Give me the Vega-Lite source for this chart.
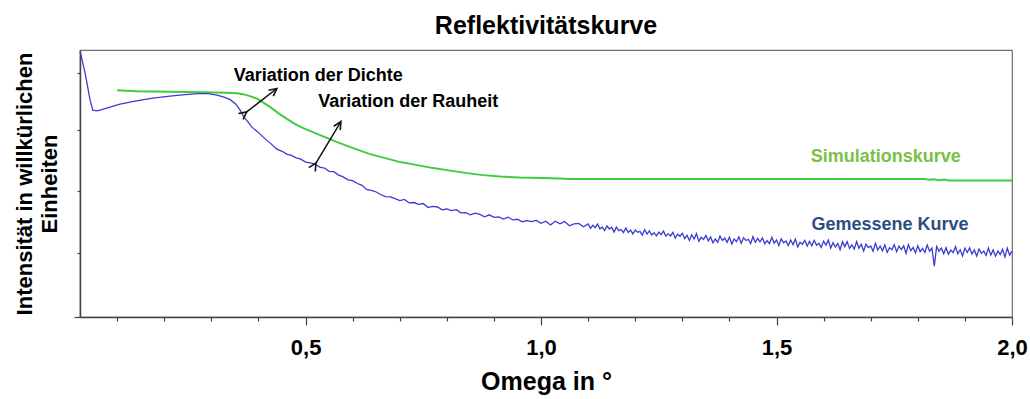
{
  "$schema": "https://vega.github.io/schema/vega-lite/v6.json",
  "width": 932,
  "height": 267,
  "autosize": {"type": "none"},
  "padding": {"left": 80, "top": 50, "right": 18, "bottom": 82},
  "background": "white",
  "title": {"text": "Reflektivitätskurve", "frame": "group", "fontSize": 25, "fontWeight": "bold", "font": "Liberation Sans", "anchor": "middle", "offset": -10, "baseline": "alphabetic", "color": "black"},
  "config": {
    "font": "Liberation Sans",
    "view": {"stroke": "#6e6e6e", "strokeWidth": 1.2},
    "axis": {"grid": false, "domainColor": "#444", "tickColor": "#444", "domainWidth": 1.5, "tickWidth": 1.2}
  },
  "datasets": {
    "kurven": [
      {"kurve": "Simulationskurve", "omega": 0.0998, "log_intensitaet": 6.796},
      {"kurve": "Simulationskurve", "omega": 0.142, "log_intensitaet": 6.766},
      {"kurve": "Simulationskurve", "omega": 0.212, "log_intensitaet": 6.751},
      {"kurve": "Simulationskurve", "omega": 0.282, "log_intensitaet": 6.737},
      {"kurve": "Simulationskurve", "omega": 0.333, "log_intensitaet": 6.722},
      {"kurve": "Simulationskurve", "omega": 0.355, "log_intensitaet": 6.707},
      {"kurve": "Simulationskurve", "omega": 0.367, "log_intensitaet": 6.677},
      {"kurve": "Simulationskurve", "omega": 0.382, "log_intensitaet": 6.617},
      {"kurve": "Simulationskurve", "omega": 0.397, "log_intensitaet": 6.542},
      {"kurve": "Simulationskurve", "omega": 0.412, "log_intensitaet": 6.407},
      {"kurve": "Simulationskurve", "omega": 0.425, "log_intensitaet": 6.287},
      {"kurve": "Simulationskurve", "omega": 0.442, "log_intensitaet": 6.108},
      {"kurve": "Simulationskurve", "omega": 0.461, "log_intensitaet": 5.928},
      {"kurve": "Simulationskurve", "omega": 0.478, "log_intensitaet": 5.778},
      {"kurve": "Simulationskurve", "omega": 0.495, "log_intensitaet": 5.659},
      {"kurve": "Simulationskurve", "omega": 0.531, "log_intensitaet": 5.449},
      {"kurve": "Simulationskurve", "omega": 0.567, "log_intensitaet": 5.240},
      {"kurve": "Simulationskurve", "omega": 0.601, "log_intensitaet": 5.060},
      {"kurve": "Simulationskurve", "omega": 0.637, "log_intensitaet": 4.880},
      {"kurve": "Simulationskurve", "omega": 0.669, "log_intensitaet": 4.760},
      {"kurve": "Simulationskurve", "omega": 0.701, "log_intensitaet": 4.641},
      {"kurve": "Simulationskurve", "omega": 0.737, "log_intensitaet": 4.551},
      {"kurve": "Simulationskurve", "omega": 0.771, "log_intensitaet": 4.461},
      {"kurve": "Simulationskurve", "omega": 0.807, "log_intensitaet": 4.386},
      {"kurve": "Simulationskurve", "omega": 0.843, "log_intensitaet": 4.311},
      {"kurve": "Simulationskurve", "omega": 0.877, "log_intensitaet": 4.251},
      {"kurve": "Simulationskurve", "omega": 0.913, "log_intensitaet": 4.207},
      {"kurve": "Simulationskurve", "omega": 0.955, "log_intensitaet": 4.177},
      {"kurve": "Simulationskurve", "omega": 1.0, "log_intensitaet": 4.162},
      {"kurve": "Simulationskurve", "omega": 1.04, "log_intensitaet": 4.147},
      {"kurve": "Simulationskurve", "omega": 1.06, "log_intensitaet": 4.135},
      {"kurve": "Simulationskurve", "omega": 1.125, "log_intensitaet": 4.132},
      {"kurve": "Simulationskurve", "omega": 1.3, "log_intensitaet": 4.132},
      {"kurve": "Simulationskurve", "omega": 1.5, "log_intensitaet": 4.132},
      {"kurve": "Simulationskurve", "omega": 1.7, "log_intensitaet": 4.132},
      {"kurve": "Simulationskurve", "omega": 1.815, "log_intensitaet": 4.132},
      {"kurve": "Simulationskurve", "omega": 1.824, "log_intensitaet": 4.11},
      {"kurve": "Simulationskurve", "omega": 1.834, "log_intensitaet": 4.13},
      {"kurve": "Simulationskurve", "omega": 1.844, "log_intensitaet": 4.10},
      {"kurve": "Simulationskurve", "omega": 1.856, "log_intensitaet": 4.12},
      {"kurve": "Simulationskurve", "omega": 1.866, "log_intensitaet": 4.087},
      {"kurve": "Simulationskurve", "omega": 2.0, "log_intensitaet": 4.087},

      {"kurve": "Gemessene Kurve", "omega": 0.0212, "log_intensitaet": 7.964},
      {"kurve": "Gemessene Kurve", "omega": 0.0318, "log_intensitaet": 7.305},
      {"kurve": "Gemessene Kurve", "omega": 0.0425, "log_intensitaet": 6.497},
      {"kurve": "Gemessene Kurve", "omega": 0.0482, "log_intensitaet": 6.198},
      {"kurve": "Gemessene Kurve", "omega": 0.0567, "log_intensitaet": 6.177},
      {"kurve": "Gemessene Kurve", "omega": 0.0637, "log_intensitaet": 6.198},
      {"kurve": "Gemessene Kurve", "omega": 0.0849, "log_intensitaet": 6.287},
      {"kurve": "Gemessene Kurve", "omega": 0.106, "log_intensitaet": 6.377},
      {"kurve": "Gemessene Kurve", "omega": 0.138, "log_intensitaet": 6.467},
      {"kurve": "Gemessene Kurve", "omega": 0.176, "log_intensitaet": 6.557},
      {"kurve": "Gemessene Kurve", "omega": 0.212, "log_intensitaet": 6.617},
      {"kurve": "Gemessene Kurve", "omega": 0.244, "log_intensitaet": 6.662},
      {"kurve": "Gemessene Kurve", "omega": 0.272, "log_intensitaet": 6.692},
      {"kurve": "Gemessene Kurve", "omega": 0.293, "log_intensitaet": 6.692},
      {"kurve": "Gemessene Kurve", "omega": 0.312, "log_intensitaet": 6.647},
      {"kurve": "Gemessene Kurve", "omega": 0.327, "log_intensitaet": 6.587},
      {"kurve": "Gemessene Kurve", "omega": 0.340, "log_intensitaet": 6.512},
      {"kurve": "Gemessene Kurve", "omega": 0.352, "log_intensitaet": 6.377},
      {"kurve": "Gemessene Kurve", "omega": 0.361, "log_intensitaet": 6.198},
      {"kurve": "Gemessene Kurve", "omega": 0.369, "log_intensitaet": 5.988},
      {"kurve": "Gemessene Kurve", "omega": 0.378, "log_intensitaet": 5.838},
      {"kurve": "Gemessene Kurve", "omega": 0.386, "log_intensitaet": 5.689},
      {"kurve": "Gemessene Kurve", "omega": 0.399, "log_intensitaet": 5.539},
      {"kurve": "Gemessene Kurve", "omega": 0.410, "log_intensitaet": 5.389},
      {"kurve": "Gemessene Kurve", "omega": 0.425, "log_intensitaet": 5.210},
      {"kurve": "Gemessene Kurve", "omega": 0.439, "log_intensitaet": 5.030},
      {"kurve": "Gemessene Kurve", "omega": 0.45, "log_intensitaet": 4.965},
      {"kurve": "Gemessene Kurve", "omega": 0.46, "log_intensitaet": 4.880},
      {"kurve": "Gemessene Kurve", "omega": 0.47, "log_intensitaet": 4.842},
      {"kurve": "Gemessene Kurve", "omega": 0.48, "log_intensitaet": 4.768},
      {"kurve": "Gemessene Kurve", "omega": 0.49, "log_intensitaet": 4.728},
      {"kurve": "Gemessene Kurve", "omega": 0.50, "log_intensitaet": 4.640},
      {"kurve": "Gemessene Kurve", "omega": 0.51, "log_intensitaet": 4.618},
      {"kurve": "Gemessene Kurve", "omega": 0.52, "log_intensitaet": 4.584},
      {"kurve": "Gemessene Kurve", "omega": 0.53, "log_intensitaet": 4.493},
      {"kurve": "Gemessene Kurve", "omega": 0.54, "log_intensitaet": 4.463},
      {"kurve": "Gemessene Kurve", "omega": 0.55, "log_intensitaet": 4.366},
      {"kurve": "Gemessene Kurve", "omega": 0.56, "log_intensitaet": 4.354},
      {"kurve": "Gemessene Kurve", "omega": 0.57, "log_intensitaet": 4.251},
      {"kurve": "Gemessene Kurve", "omega": 0.58, "log_intensitaet": 4.198},
      {"kurve": "Gemessene Kurve", "omega": 0.59, "log_intensitaet": 4.111},
      {"kurve": "Gemessene Kurve", "omega": 0.60, "log_intensitaet": 4.087},
      {"kurve": "Gemessene Kurve", "omega": 0.61, "log_intensitaet": 3.999},
      {"kurve": "Gemessene Kurve", "omega": 0.62, "log_intensitaet": 3.945},
      {"kurve": "Gemessene Kurve", "omega": 0.63, "log_intensitaet": 3.813},
      {"kurve": "Gemessene Kurve", "omega": 0.64, "log_intensitaet": 3.792},
      {"kurve": "Gemessene Kurve", "omega": 0.65, "log_intensitaet": 3.746},
      {"kurve": "Gemessene Kurve", "omega": 0.66, "log_intensitaet": 3.662},
      {"kurve": "Gemessene Kurve", "omega": 0.67, "log_intensitaet": 3.604},
      {"kurve": "Gemessene Kurve", "omega": 0.68, "log_intensitaet": 3.602},
      {"kurve": "Gemessene Kurve", "omega": 0.69, "log_intensitaet": 3.546},
      {"kurve": "Gemessene Kurve", "omega": 0.70, "log_intensitaet": 3.485},
      {"kurve": "Gemessene Kurve", "omega": 0.71, "log_intensitaet": 3.521},
      {"kurve": "Gemessene Kurve", "omega": 0.72, "log_intensitaet": 3.418},
      {"kurve": "Gemessene Kurve", "omega": 0.73, "log_intensitaet": 3.430},
      {"kurve": "Gemessene Kurve", "omega": 0.74, "log_intensitaet": 3.376},
      {"kurve": "Gemessene Kurve", "omega": 0.75, "log_intensitaet": 3.400},
      {"kurve": "Gemessene Kurve", "omega": 0.76, "log_intensitaet": 3.278},
      {"kurve": "Gemessene Kurve", "omega": 0.77, "log_intensitaet": 3.316},
      {"kurve": "Gemessene Kurve", "omega": 0.78, "log_intensitaet": 3.296},
      {"kurve": "Gemessene Kurve", "omega": 0.79, "log_intensitaet": 3.211},
      {"kurve": "Gemessene Kurve", "omega": 0.80, "log_intensitaet": 3.236},
      {"kurve": "Gemessene Kurve", "omega": 0.81, "log_intensitaet": 3.186},
      {"kurve": "Gemessene Kurve", "omega": 0.82, "log_intensitaet": 3.216},
      {"kurve": "Gemessene Kurve", "omega": 0.83, "log_intensitaet": 3.121},
      {"kurve": "Gemessene Kurve", "omega": 0.84, "log_intensitaet": 3.127},
      {"kurve": "Gemessene Kurve", "omega": 0.85, "log_intensitaet": 3.061},
      {"kurve": "Gemessene Kurve", "omega": 0.86, "log_intensitaet": 3.114},
      {"kurve": "Gemessene Kurve", "omega": 0.87, "log_intensitaet": 3.076},
      {"kurve": "Gemessene Kurve", "omega": 0.88, "log_intensitaet": 3.003},
      {"kurve": "Gemessene Kurve", "omega": 0.89, "log_intensitaet": 3.062},
      {"kurve": "Gemessene Kurve", "omega": 0.90, "log_intensitaet": 2.986},
      {"kurve": "Gemessene Kurve", "omega": 0.91, "log_intensitaet": 3.000},
      {"kurve": "Gemessene Kurve", "omega": 0.92, "log_intensitaet": 2.934},
      {"kurve": "Gemessene Kurve", "omega": 0.93, "log_intensitaet": 2.993},
      {"kurve": "Gemessene Kurve", "omega": 0.94, "log_intensitaet": 2.908},
      {"kurve": "Gemessene Kurve", "omega": 0.95, "log_intensitaet": 2.928},
      {"kurve": "Gemessene Kurve", "omega": 0.96, "log_intensitaet": 2.855},
      {"kurve": "Gemessene Kurve", "omega": 0.97, "log_intensitaet": 2.886},
      {"kurve": "Gemessene Kurve", "omega": 0.98, "log_intensitaet": 2.858},
      {"kurve": "Gemessene Kurve", "omega": 0.99, "log_intensitaet": 2.894},
      {"kurve": "Gemessene Kurve", "omega": 1.00, "log_intensitaet": 2.805},
      {"kurve": "Gemessene Kurve", "omega": 1.01, "log_intensitaet": 2.869},
      {"kurve": "Gemessene Kurve", "omega": 1.02, "log_intensitaet": 2.756},
      {"kurve": "Gemessene Kurve", "omega": 1.03, "log_intensitaet": 2.868},
      {"kurve": "Gemessene Kurve", "omega": 1.04, "log_intensitaet": 2.795},
      {"kurve": "Gemessene Kurve", "omega": 1.05, "log_intensitaet": 2.859},
      {"kurve": "Gemessene Kurve", "omega": 1.06, "log_intensitaet": 2.733},
      {"kurve": "Gemessene Kurve", "omega": 1.07, "log_intensitaet": 2.788},
      {"kurve": "Gemessene Kurve", "omega": 1.08, "log_intensitaet": 2.806},
      {"kurve": "Gemessene Kurve", "omega": 1.09, "log_intensitaet": 2.705},
      {"kurve": "Gemessene Kurve", "omega": 1.100, "log_intensitaet": 2.790},
      {"kurve": "Gemessene Kurve", "omega": 1.105, "log_intensitaet": 2.656},
      {"kurve": "Gemessene Kurve", "omega": 1.110, "log_intensitaet": 2.747},
      {"kurve": "Gemessene Kurve", "omega": 1.115, "log_intensitaet": 2.676},
      {"kurve": "Gemessene Kurve", "omega": 1.120, "log_intensitaet": 2.784},
      {"kurve": "Gemessene Kurve", "omega": 1.125, "log_intensitaet": 2.640},
      {"kurve": "Gemessene Kurve", "omega": 1.130, "log_intensitaet": 2.694},
      {"kurve": "Gemessene Kurve", "omega": 1.135, "log_intensitaet": 2.594},
      {"kurve": "Gemessene Kurve", "omega": 1.140, "log_intensitaet": 2.727},
      {"kurve": "Gemessene Kurve", "omega": 1.145, "log_intensitaet": 2.636},
      {"kurve": "Gemessene Kurve", "omega": 1.150, "log_intensitaet": 2.688},
      {"kurve": "Gemessene Kurve", "omega": 1.155, "log_intensitaet": 2.543},
      {"kurve": "Gemessene Kurve", "omega": 1.160, "log_intensitaet": 2.694},
      {"kurve": "Gemessene Kurve", "omega": 1.165, "log_intensitaet": 2.586},
      {"kurve": "Gemessene Kurve", "omega": 1.170, "log_intensitaet": 2.621},
      {"kurve": "Gemessene Kurve", "omega": 1.175, "log_intensitaet": 2.532},
      {"kurve": "Gemessene Kurve", "omega": 1.180, "log_intensitaet": 2.667},
      {"kurve": "Gemessene Kurve", "omega": 1.185, "log_intensitaet": 2.532},
      {"kurve": "Gemessene Kurve", "omega": 1.190, "log_intensitaet": 2.604},
      {"kurve": "Gemessene Kurve", "omega": 1.195, "log_intensitaet": 2.489},
      {"kurve": "Gemessene Kurve", "omega": 1.200, "log_intensitaet": 2.608},
      {"kurve": "Gemessene Kurve", "omega": 1.205, "log_intensitaet": 2.539},
      {"kurve": "Gemessene Kurve", "omega": 1.210, "log_intensitaet": 2.568},
      {"kurve": "Gemessene Kurve", "omega": 1.215, "log_intensitaet": 2.454},
      {"kurve": "Gemessene Kurve", "omega": 1.220, "log_intensitaet": 2.618},
      {"kurve": "Gemessene Kurve", "omega": 1.225, "log_intensitaet": 2.486},
      {"kurve": "Gemessene Kurve", "omega": 1.230, "log_intensitaet": 2.579},
      {"kurve": "Gemessene Kurve", "omega": 1.235, "log_intensitaet": 2.458},
      {"kurve": "Gemessene Kurve", "omega": 1.240, "log_intensitaet": 2.525},
      {"kurve": "Gemessene Kurve", "omega": 1.245, "log_intensitaet": 2.431},
      {"kurve": "Gemessene Kurve", "omega": 1.250, "log_intensitaet": 2.544},
      {"kurve": "Gemessene Kurve", "omega": 1.255, "log_intensitaet": 2.468},
      {"kurve": "Gemessene Kurve", "omega": 1.260, "log_intensitaet": 2.572},
      {"kurve": "Gemessene Kurve", "omega": 1.265, "log_intensitaet": 2.424},
      {"kurve": "Gemessene Kurve", "omega": 1.270, "log_intensitaet": 2.491},
      {"kurve": "Gemessene Kurve", "omega": 1.275, "log_intensitaet": 2.428},
      {"kurve": "Gemessene Kurve", "omega": 1.280, "log_intensitaet": 2.536},
      {"kurve": "Gemessene Kurve", "omega": 1.285, "log_intensitaet": 2.365},
      {"kurve": "Gemessene Kurve", "omega": 1.290, "log_intensitaet": 2.482},
      {"kurve": "Gemessene Kurve", "omega": 1.295, "log_intensitaet": 2.419},
      {"kurve": "Gemessene Kurve", "omega": 1.300, "log_intensitaet": 2.512},
      {"kurve": "Gemessene Kurve", "omega": 1.305, "log_intensitaet": 2.347},
      {"kurve": "Gemessene Kurve", "omega": 1.310, "log_intensitaet": 2.445},
      {"kurve": "Gemessene Kurve", "omega": 1.315, "log_intensitaet": 2.293},
      {"kurve": "Gemessene Kurve", "omega": 1.320, "log_intensitaet": 2.465},
      {"kurve": "Gemessene Kurve", "omega": 1.325, "log_intensitaet": 2.337},
      {"kurve": "Gemessene Kurve", "omega": 1.330, "log_intensitaet": 2.497},
      {"kurve": "Gemessene Kurve", "omega": 1.335, "log_intensitaet": 2.274},
      {"kurve": "Gemessene Kurve", "omega": 1.340, "log_intensitaet": 2.386},
      {"kurve": "Gemessene Kurve", "omega": 1.345, "log_intensitaet": 2.320},
      {"kurve": "Gemessene Kurve", "omega": 1.350, "log_intensitaet": 2.446},
      {"kurve": "Gemessene Kurve", "omega": 1.355, "log_intensitaet": 2.284},
      {"kurve": "Gemessene Kurve", "omega": 1.360, "log_intensitaet": 2.397},
      {"kurve": "Gemessene Kurve", "omega": 1.365, "log_intensitaet": 2.223},
      {"kurve": "Gemessene Kurve", "omega": 1.370, "log_intensitaet": 2.337},
      {"kurve": "Gemessene Kurve", "omega": 1.375, "log_intensitaet": 2.238},
      {"kurve": "Gemessene Kurve", "omega": 1.380, "log_intensitaet": 2.426},
      {"kurve": "Gemessene Kurve", "omega": 1.385, "log_intensitaet": 2.292},
      {"kurve": "Gemessene Kurve", "omega": 1.390, "log_intensitaet": 2.362},
      {"kurve": "Gemessene Kurve", "omega": 1.395, "log_intensitaet": 2.240},
      {"kurve": "Gemessene Kurve", "omega": 1.400, "log_intensitaet": 2.393},
      {"kurve": "Gemessene Kurve", "omega": 1.405, "log_intensitaet": 2.187},
      {"kurve": "Gemessene Kurve", "omega": 1.410, "log_intensitaet": 2.341},
      {"kurve": "Gemessene Kurve", "omega": 1.415, "log_intensitaet": 2.257},
      {"kurve": "Gemessene Kurve", "omega": 1.420, "log_intensitaet": 2.401},
      {"kurve": "Gemessene Kurve", "omega": 1.425, "log_intensitaet": 2.209},
      {"kurve": "Gemessene Kurve", "omega": 1.430, "log_intensitaet": 2.377},
      {"kurve": "Gemessene Kurve", "omega": 1.435, "log_intensitaet": 2.293},
      {"kurve": "Gemessene Kurve", "omega": 1.440, "log_intensitaet": 2.329},
      {"kurve": "Gemessene Kurve", "omega": 1.445, "log_intensitaet": 2.197},
      {"kurve": "Gemessene Kurve", "omega": 1.450, "log_intensitaet": 2.408},
      {"kurve": "Gemessene Kurve", "omega": 1.455, "log_intensitaet": 2.236},
      {"kurve": "Gemessene Kurve", "omega": 1.460, "log_intensitaet": 2.352},
      {"kurve": "Gemessene Kurve", "omega": 1.465, "log_intensitaet": 2.252},
      {"kurve": "Gemessene Kurve", "omega": 1.470, "log_intensitaet": 2.367},
      {"kurve": "Gemessene Kurve", "omega": 1.475, "log_intensitaet": 2.195},
      {"kurve": "Gemessene Kurve", "omega": 1.480, "log_intensitaet": 2.287},
      {"kurve": "Gemessene Kurve", "omega": 1.485, "log_intensitaet": 2.198},
      {"kurve": "Gemessene Kurve", "omega": 1.490, "log_intensitaet": 2.386},
      {"kurve": "Gemessene Kurve", "omega": 1.495, "log_intensitaet": 2.214},
      {"kurve": "Gemessene Kurve", "omega": 1.500, "log_intensitaet": 2.306},
      {"kurve": "Gemessene Kurve", "omega": 1.505, "log_intensitaet": 2.145},
      {"kurve": "Gemessene Kurve", "omega": 1.510, "log_intensitaet": 2.345},
      {"kurve": "Gemessene Kurve", "omega": 1.515, "log_intensitaet": 2.221},
      {"kurve": "Gemessene Kurve", "omega": 1.520, "log_intensitaet": 2.277},
      {"kurve": "Gemessene Kurve", "omega": 1.525, "log_intensitaet": 2.141},
      {"kurve": "Gemessene Kurve", "omega": 1.530, "log_intensitaet": 2.305},
      {"kurve": "Gemessene Kurve", "omega": 1.535, "log_intensitaet": 2.168},
      {"kurve": "Gemessene Kurve", "omega": 1.540, "log_intensitaet": 2.332},
      {"kurve": "Gemessene Kurve", "omega": 1.545, "log_intensitaet": 2.100},
      {"kurve": "Gemessene Kurve", "omega": 1.550, "log_intensitaet": 2.240},
      {"kurve": "Gemessene Kurve", "omega": 1.555, "log_intensitaet": 2.178},
      {"kurve": "Gemessene Kurve", "omega": 1.560, "log_intensitaet": 2.296},
      {"kurve": "Gemessene Kurve", "omega": 1.565, "log_intensitaet": 2.126},
      {"kurve": "Gemessene Kurve", "omega": 1.570, "log_intensitaet": 2.267},
      {"kurve": "Gemessene Kurve", "omega": 1.575, "log_intensitaet": 2.133},
      {"kurve": "Gemessene Kurve", "omega": 1.580, "log_intensitaet": 2.299},
      {"kurve": "Gemessene Kurve", "omega": 1.585, "log_intensitaet": 2.152},
      {"kurve": "Gemessene Kurve", "omega": 1.590, "log_intensitaet": 2.210},
      {"kurve": "Gemessene Kurve", "omega": 1.595, "log_intensitaet": 2.086},
      {"kurve": "Gemessene Kurve", "omega": 1.600, "log_intensitaet": 2.273},
      {"kurve": "Gemessene Kurve", "omega": 1.605, "log_intensitaet": 2.157},
      {"kurve": "Gemessene Kurve", "omega": 1.610, "log_intensitaet": 2.306},
      {"kurve": "Gemessene Kurve", "omega": 1.615, "log_intensitaet": 2.064},
      {"kurve": "Gemessene Kurve", "omega": 1.620, "log_intensitaet": 2.227},
      {"kurve": "Gemessene Kurve", "omega": 1.625, "log_intensitaet": 2.097},
      {"kurve": "Gemessene Kurve", "omega": 1.630, "log_intensitaet": 2.205},
      {"kurve": "Gemessene Kurve", "omega": 1.635, "log_intensitaet": 2.018},
      {"kurve": "Gemessene Kurve", "omega": 1.640, "log_intensitaet": 2.252},
      {"kurve": "Gemessene Kurve", "omega": 1.645, "log_intensitaet": 2.108},
      {"kurve": "Gemessene Kurve", "omega": 1.650, "log_intensitaet": 2.258},
      {"kurve": "Gemessene Kurve", "omega": 1.655, "log_intensitaet": 2.057},
      {"kurve": "Gemessene Kurve", "omega": 1.660, "log_intensitaet": 2.164},
      {"kurve": "Gemessene Kurve", "omega": 1.665, "log_intensitaet": 2.032},
      {"kurve": "Gemessene Kurve", "omega": 1.670, "log_intensitaet": 2.263},
      {"kurve": "Gemessene Kurve", "omega": 1.675, "log_intensitaet": 2.062},
      {"kurve": "Gemessene Kurve", "omega": 1.680, "log_intensitaet": 2.182},
      {"kurve": "Gemessene Kurve", "omega": 1.685, "log_intensitaet": 1.980},
      {"kurve": "Gemessene Kurve", "omega": 1.690, "log_intensitaet": 2.184},
      {"kurve": "Gemessene Kurve", "omega": 1.695, "log_intensitaet": 2.081},
      {"kurve": "Gemessene Kurve", "omega": 1.700, "log_intensitaet": 2.131},
      {"kurve": "Gemessene Kurve", "omega": 1.705, "log_intensitaet": 1.973},
      {"kurve": "Gemessene Kurve", "omega": 1.710, "log_intensitaet": 2.206},
      {"kurve": "Gemessene Kurve", "omega": 1.715, "log_intensitaet": 2.006},
      {"kurve": "Gemessene Kurve", "omega": 1.720, "log_intensitaet": 2.127},
      {"kurve": "Gemessene Kurve", "omega": 1.725, "log_intensitaet": 1.984},
      {"kurve": "Gemessene Kurve", "omega": 1.730, "log_intensitaet": 2.162},
      {"kurve": "Gemessene Kurve", "omega": 1.735, "log_intensitaet": 1.936},
      {"kurve": "Gemessene Kurve", "omega": 1.740, "log_intensitaet": 2.074},
      {"kurve": "Gemessene Kurve", "omega": 1.745, "log_intensitaet": 2.016},
      {"kurve": "Gemessene Kurve", "omega": 1.750, "log_intensitaet": 2.168},
      {"kurve": "Gemessene Kurve", "omega": 1.755, "log_intensitaet": 1.956},
      {"kurve": "Gemessene Kurve", "omega": 1.760, "log_intensitaet": 2.122},
      {"kurve": "Gemessene Kurve", "omega": 1.765, "log_intensitaet": 2.022},
      {"kurve": "Gemessene Kurve", "omega": 1.770, "log_intensitaet": 2.132},
      {"kurve": "Gemessene Kurve", "omega": 1.775, "log_intensitaet": 1.906},
      {"kurve": "Gemessene Kurve", "omega": 1.780, "log_intensitaet": 2.170},
      {"kurve": "Gemessene Kurve", "omega": 1.785, "log_intensitaet": 1.986},
      {"kurve": "Gemessene Kurve", "omega": 1.790, "log_intensitaet": 2.082},
      {"kurve": "Gemessene Kurve", "omega": 1.795, "log_intensitaet": 1.925},
      {"kurve": "Gemessene Kurve", "omega": 1.800, "log_intensitaet": 2.132},
      {"kurve": "Gemessene Kurve", "omega": 1.805, "log_intensitaet": 1.960},
      {"kurve": "Gemessene Kurve", "omega": 1.810, "log_intensitaet": 2.053},
      {"kurve": "Gemessene Kurve", "omega": 1.815, "log_intensitaet": 1.937},
      {"kurve": "Gemessene Kurve", "omega": 1.820, "log_intensitaet": 2.156},
      {"kurve": "Gemessene Kurve", "omega": 1.825, "log_intensitaet": 1.970},
      {"kurve": "Gemessene Kurve", "omega": 1.830, "log_intensitaet": 2.063},
      {"kurve": "Gemessene Kurve", "omega": 1.835, "log_intensitaet": 1.520},
      {"kurve": "Gemessene Kurve", "omega": 1.840, "log_intensitaet": 2.113},
      {"kurve": "Gemessene Kurve", "omega": 1.845, "log_intensitaet": 1.971},
      {"kurve": "Gemessene Kurve", "omega": 1.850, "log_intensitaet": 2.067},
      {"kurve": "Gemessene Kurve", "omega": 1.855, "log_intensitaet": 1.897},
      {"kurve": "Gemessene Kurve", "omega": 1.860, "log_intensitaet": 2.077},
      {"kurve": "Gemessene Kurve", "omega": 1.865, "log_intensitaet": 1.880},
      {"kurve": "Gemessene Kurve", "omega": 1.870, "log_intensitaet": 2.004},
      {"kurve": "Gemessene Kurve", "omega": 1.875, "log_intensitaet": 1.930},
      {"kurve": "Gemessene Kurve", "omega": 1.880, "log_intensitaet": 2.108},
      {"kurve": "Gemessene Kurve", "omega": 1.885, "log_intensitaet": 1.894},
      {"kurve": "Gemessene Kurve", "omega": 1.890, "log_intensitaet": 2.015},
      {"kurve": "Gemessene Kurve", "omega": 1.895, "log_intensitaet": 1.829},
      {"kurve": "Gemessene Kurve", "omega": 1.900, "log_intensitaet": 2.062},
      {"kurve": "Gemessene Kurve", "omega": 1.905, "log_intensitaet": 1.933},
      {"kurve": "Gemessene Kurve", "omega": 1.910, "log_intensitaet": 2.070},
      {"kurve": "Gemessene Kurve", "omega": 1.915, "log_intensitaet": 1.886},
      {"kurve": "Gemessene Kurve", "omega": 1.920, "log_intensitaet": 2.010},
      {"kurve": "Gemessene Kurve", "omega": 1.925, "log_intensitaet": 1.826},
      {"kurve": "Gemessene Kurve", "omega": 1.930, "log_intensitaet": 2.034},
      {"kurve": "Gemessene Kurve", "omega": 1.935, "log_intensitaet": 1.906},
      {"kurve": "Gemessene Kurve", "omega": 1.940, "log_intensitaet": 1.974},
      {"kurve": "Gemessene Kurve", "omega": 1.945, "log_intensitaet": 1.846},
      {"kurve": "Gemessene Kurve", "omega": 1.950, "log_intensitaet": 2.067},
      {"kurve": "Gemessene Kurve", "omega": 1.955, "log_intensitaet": 1.855},
      {"kurve": "Gemessene Kurve", "omega": 1.960, "log_intensitaet": 2.007},
      {"kurve": "Gemessene Kurve", "omega": 1.965, "log_intensitaet": 1.823},
      {"kurve": "Gemessene Kurve", "omega": 1.970, "log_intensitaet": 1.975},
      {"kurve": "Gemessene Kurve", "omega": 1.975, "log_intensitaet": 1.874},
      {"kurve": "Gemessene Kurve", "omega": 1.980, "log_intensitaet": 2.026},
      {"kurve": "Gemessene Kurve", "omega": 1.985, "log_intensitaet": 1.799},
      {"kurve": "Gemessene Kurve", "omega": 1.990, "log_intensitaet": 2.062},
      {"kurve": "Gemessene Kurve", "omega": 1.995, "log_intensitaet": 1.849},
      {"kurve": "Gemessene Kurve", "omega": 2.000, "log_intensitaet": 1.972}
    ],
    "pfeile": [
      {"pfeil": "Dichte", "omega": 0.375, "log_intensitaet": 6.147, "omega2": 0.439, "log_intensitaet2": 6.847},
      {"pfeil": "Rauheit", "omega": 0.522, "log_intensitaet": 4.611, "omega2": 0.575, "log_intensitaet2": 5.853}
    ],
    "texte": [
      {"text": "Variation der Dichte", "art": "Hinweis", "omega": 0.527, "log_intensitaet": 7.066},
      {"text": "Variation der Rauheit", "art": "Hinweis", "omega": 0.718, "log_intensitaet": 6.287},
      {"text": "Simulationskurve", "art": "Simulation", "omega": 1.732, "log_intensitaet": 4.641},
      {"text": "Gemessene Kurve", "art": "Messung", "omega": 1.741, "log_intensitaet": 2.605}
    ]
  },
  "layer": [
    {
      "data": {"name": "kurven"},
      "mark": {"type": "line", "interpolate": "linear"},
      "encoding": {
        "x": {
          "field": "omega", "type": "quantitative", "title": "Omega in °",
          "scale": {"domain": [0.021, 2.0], "nice": false, "zero": false},
          "axis": {
            "values": [0.1, 0.2, 0.3, 0.4, 0.5, 0.6, 0.7, 0.8, 0.9, 1.0, 1.1, 1.2, 1.3, 1.4, 1.5, 1.6, 1.7, 1.8, 1.9, 2.0],
            "labelExpr": "abs(datum.value*2 - round(datum.value*2)) < 0.001 ? replace(format(datum.value, '.1f'), '.', ',') : ''",
            "tickSize": {"condition": {"test": "abs(datum.value*2 - round(datum.value*2)) < 0.001", "value": 8}, "value": 4},
            "labelFontSize": 22, "labelFontWeight": "bold", "labelColor": "black", "labelPadding": 12,
            "labelOverlap": false, "labelFlush": false, "labelBound": false,
            "titleFontSize": 25, "titleFontWeight": "bold", "titleColor": "black", "titlePadding": 11
          }
        },
        "y": {
          "field": "log_intensitaet", "type": "quantitative", "title": ["Intensität in willkürlichen", "Einheiten"],
          "scale": {"domain": [0, 8], "nice": false, "zero": false},
          "axis": {
            "values": [0, 0.301, 0.477, 0.602, 0.699, 0.778, 0.845, 0.903, 0.954, 1, 1.301, 1.477, 1.602, 1.699, 1.778, 1.845, 1.903, 1.954, 2, 2.301, 2.477, 2.602, 2.699, 2.778, 2.845, 2.903, 2.954, 3, 3.301, 3.477, 3.602, 3.699, 3.778, 3.845, 3.903, 3.954, 4, 4.301, 4.477, 4.602, 4.699, 4.778, 4.845, 4.903, 4.954, 5, 5.301, 5.477, 5.602, 5.699, 5.778, 5.845, 5.903, 5.954, 6, 6.301, 6.477, 6.602, 6.699, 6.778, 6.845, 6.903, 6.954, 7, 7.301, 7.477, 7.602, 7.699, 7.778, 7.845, 7.903, 7.954, 8],
            "labels": false,
            "tickSize": {"condition": {"test": "abs(datum.value - round(datum.value)) < 0.001", "value": 6}, "value": 3},
            "titleFontSize": 22, "titleFontWeight": "bold", "titleColor": "black", "titlePadding": 12, "titleLineHeight": 25
          }
        },
        "stroke": {
          "field": "kurve", "type": "nominal", "legend": null,
          "scale": {"domain": ["Gemessene Kurve", "Simulationskurve"], "range": ["#3b3bd2", "#3fcc3f"]}
        },
        "strokeWidth": {
          "field": "kurve", "type": "nominal", "legend": null,
          "scale": {"domain": ["Gemessene Kurve", "Simulationskurve"], "range": [1.3, 2]}
        }
      }
    },
    {
      "data": {"name": "pfeile"},
      "mark": {"type": "rule", "color": "#111", "strokeWidth": 1.5},
      "encoding": {
        "x": {"field": "omega", "type": "quantitative", "title": "Omega in °"},
        "y": {"field": "log_intensitaet", "type": "quantitative", "title": ["Intensität in willkürlichen", "Einheiten"]},
        "x2": {"field": "omega2"},
        "y2": {"field": "log_intensitaet2"}
      }
    },
    {
      "data": {"name": "pfeile"},
      "mark": {"type": "point", "shape": "M-0.55,1.1L0,0L0.55,1.1", "filled": false, "stroke": "#111", "strokeWidth": 1.6, "size": 190, "opacity": 1},
      "encoding": {
        "x": {"field": "omega2", "type": "quantitative", "title": "Omega in °"},
        "y": {"field": "log_intensitaet2", "type": "quantitative", "title": ["Intensität in willkürlichen", "Einheiten"]},
        "angle": {"field": "pfeil", "type": "nominal", "legend": null, "scale": {"domain": ["Dichte", "Rauheit"], "range": [52, 31]}}
      }
    },
    {
      "data": {"name": "pfeile"},
      "mark": {"type": "point", "shape": "M-0.55,1.1L0,0L0.55,1.1", "filled": false, "stroke": "#111", "strokeWidth": 1.6, "size": 190, "opacity": 1},
      "encoding": {
        "x": {"field": "omega", "type": "quantitative", "title": "Omega in °"},
        "y": {"field": "log_intensitaet", "type": "quantitative", "title": ["Intensität in willkürlichen", "Einheiten"]},
        "angle": {"field": "pfeil", "type": "nominal", "legend": null, "scale": {"domain": ["Dichte", "Rauheit"], "range": [232, 211]}}
      }
    },
    {
      "data": {"name": "texte"},
      "mark": {"type": "text", "fontSize": 18, "fontWeight": "bold", "align": "center", "baseline": "alphabetic"},
      "encoding": {
        "x": {"field": "omega", "type": "quantitative", "title": "Omega in °"},
        "y": {"field": "log_intensitaet", "type": "quantitative", "title": ["Intensität in willkürlichen", "Einheiten"]},
        "text": {"field": "text"},
        "fill": {
          "field": "art", "type": "nominal", "legend": null,
          "scale": {"domain": ["Hinweis", "Simulation", "Messung"], "range": ["#000000", "#7ac143", "#2b4e7e"]}
        }
      }
    }
  ]
}
